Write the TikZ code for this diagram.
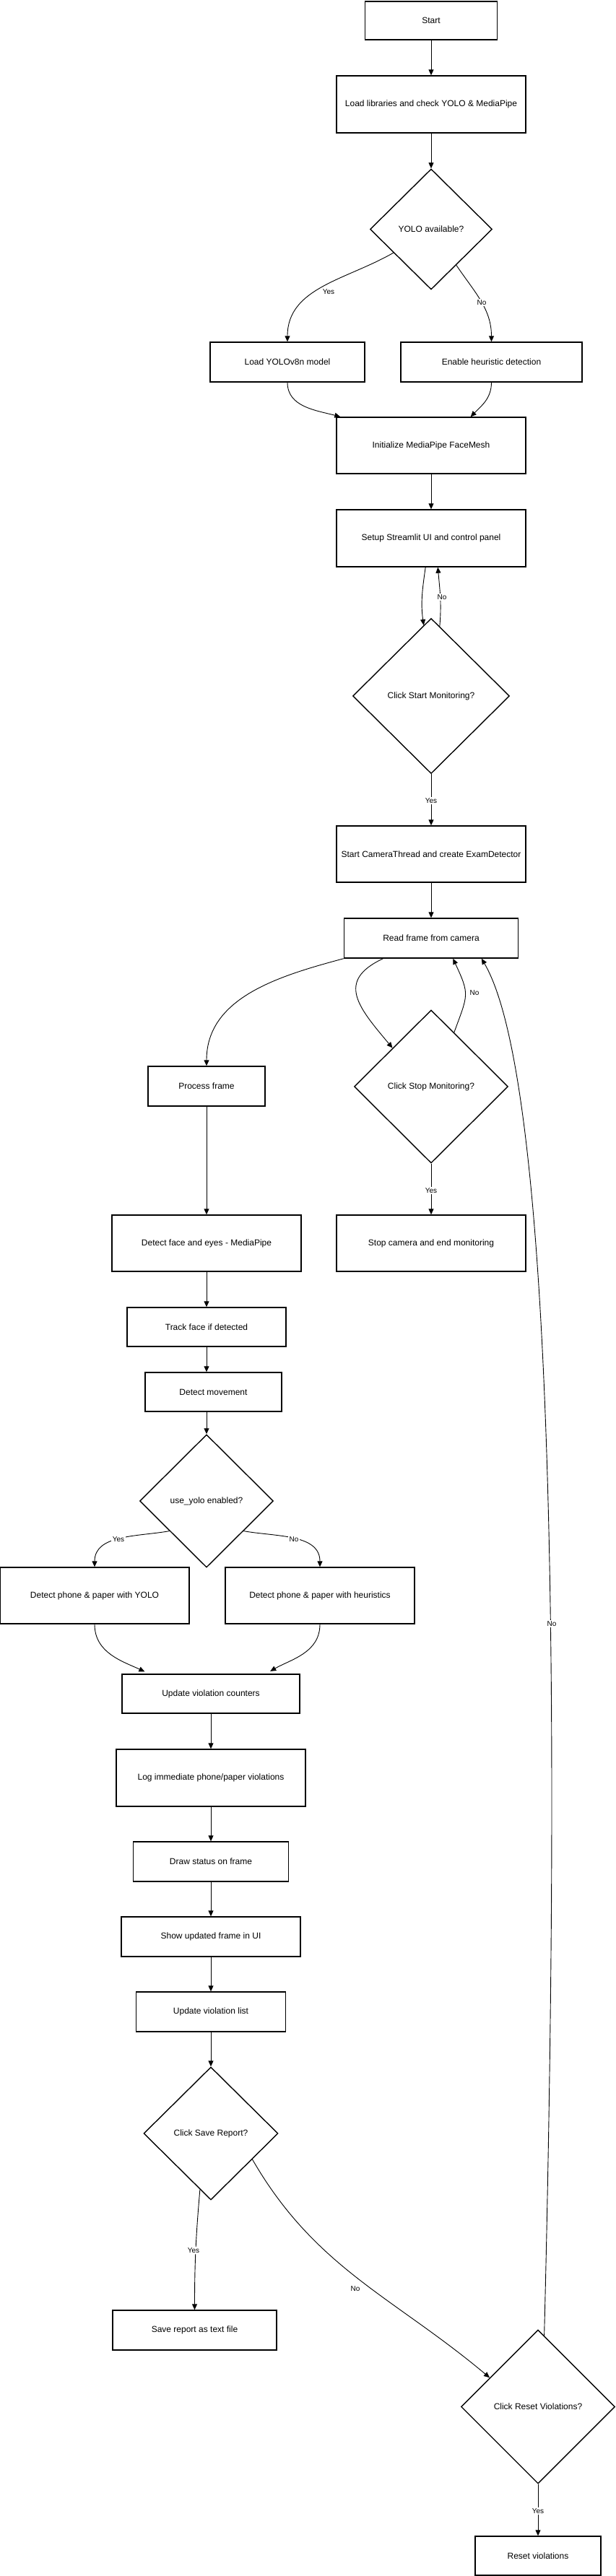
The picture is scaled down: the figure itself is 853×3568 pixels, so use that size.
\documentclass[tikz,border=0pt]{standalone}
\usepackage{fontspec}
\setmainfont{Liberation Sans}
\usetikzlibrary{shapes.geometric,arrows.meta}

\begin{document}
\begin{tikzpicture}[x=1pt, y=-1pt, >={Triangle[length=8pt,width=7pt]},
  box/.style={draw, line width=1.4pt, inner sep=0pt, font=\fontsize{12}{14}\selectfont},
  decision/.style={draw, diamond, line width=1.4pt, inner sep=0pt, font=\fontsize{12}{14}\selectfont},
  flow/.style={->, line width=0.9pt},
  elabel/.style={fill=white, inner sep=1.5pt, font=\fontsize{10}{12}\selectfont}]
  \useasboundingbox (0,0) rectangle (853,3568);
  % setup steps
  \node[box, minimum width=183, minimum height=53] (start) at (597,28.5) {Start};
  \node[box, minimum width=262, minimum height=79] (load) at (597,144.5) {Load libraries and check YOLO \& MediaPipe};
  \node[decision, minimum width=169, minimum height=167] (yolo) at (597,317.5) {YOLO available?};
  \node[box, minimum width=214, minimum height=55] (loadyolo) at (398,501.5) {Load YOLOv8n model};
  \node[box, minimum width=251, minimum height=55] (heur) at (680.5,501.5) {Enable heuristic detection};
  \node[box, minimum width=262, minimum height=78] (init) at (597,617) {Initialize MediaPipe FaceMesh};
  \node[box, minimum width=262, minimum height=79] (setup) at (597,745.5) {Setup Streamlit UI and control panel};
  \node[decision, minimum width=217, minimum height=215] (startmon) at (597,964) {Click Start Monitoring?};
  \node[box, minimum width=262, minimum height=78] (camthread) at (597,1183) {Start CameraThread and create ExamDetector};
  \node[box, minimum width=241, minimum height=55] (readframe) at (597,1299.5) {Read frame from camera};
  % camera loop
  \node[box, minimum width=162, minimum height=55] (process) at (286,1504.5) {Process frame};
  \node[decision, minimum width=213, minimum height=212] (stopmon) at (597,1505) {Click Stop Monitoring?};
  \node[box, minimum width=262, minimum height=78] (facedet) at (286,1722) {Detect face and eyes - MediaPipe};
  \node[box, minimum width=262, minimum height=78] (stopcam) at (597,1722) {Stop camera and end monitoring};
  \node[box, minimum width=220, minimum height=54] (track) at (286,1838) {Track face if detected};
  \node[box, minimum width=189, minimum height=54] (movement) at (295.5,1928) {Detect movement};
  \node[decision, minimum width=185, minimum height=184] (useyolo) at (286,2079) {use\_yolo enabled?};
  \node[box, minimum width=262, minimum height=78] (detyolo) at (131,2210) {Detect phone \& paper with YOLO};
  \node[box, minimum width=262, minimum height=78] (detheur) at (443,2210) {Detect phone \& paper with heuristics};
  \node[box, minimum width=246, minimum height=54] (counters) at (292,2346) {Update violation counters};
  \node[box, minimum width=262, minimum height=79] (logviol) at (292,2462.5) {Log immediate phone/paper violations};
  \node[box, minimum width=215, minimum height=55] (drawstatus) at (292,2578.5) {Draw status on frame};
  \node[box, minimum width=248, minimum height=55] (showframe) at (292,2682.5) {Show updated frame in UI};
  \node[box, minimum width=207, minimum height=55] (violist) at (292,2786.5) {Update violation list};
  \node[decision, minimum width=186, minimum height=184] (saverep) at (292,2955) {Click Save Report?};
  \node[box, minimum width=227, minimum height=55] (savetxt) at (269.5,3227.5) {Save report as text file};
  \node[decision, minimum width=213, minimum height=213] (resetq) at (745,3333.5) {Click Reset Violations?};
  \node[box, minimum width=174, minimum height=54] (resetv) at (745,3540) {Reset violations};
  % connectors, top part
  \draw[flow] (start) -- (load);
  \draw[flow] (load) -- (yolo);
  \draw[flow] (yolo.212) to[out=210,in=90] (loadyolo.north);
  \draw[flow] (yolo.305) to[out=-56,in=90] (heur.north);
  \draw[flow] (loadyolo.south) to[out=-90,in=165] ([xshift=6]init.north west);
  \draw[flow] (heur.south) to[out=-90,in=45] (init.36);
  \draw[flow] (init) -- (setup);
  \draw[flow] (setup.259) to[out=-98,in=98] (startmon.96);
  \draw[flow] (startmon.83) to[out=85,in=-85] (setup.283);
  \draw[flow] (startmon) -- (camthread);
  \draw[flow] (camthread) -- (readframe);
  \node[elabel] (yes1) at (455,404) {Yes};
  \node[elabel] (no1) at (667,419) {No};
  \node[elabel] (no2) at (612,827) {No};
  \node[elabel] (yes2) at (597,1109) {Yes};
  % camera loop
  \draw[flow] (readframe.south west) to[out=195,in=90] (process.north);
  \draw[flow] (readframe.203) to[out=205,in=130,looseness=1.5] (stopmon.135);
  \draw[flow] (stopmon.67) to[out=70,in=-65,looseness=1.4] (readframe.317);
  \draw[flow] (stopmon) -- (stopcam);
  \node[elabel] (no3) at (657,1375) {No};
  \node[elabel] (yes3) at (597,1649) {Yes};
  % detection chain
  \draw[flow] (process) -- (facedet);
  \draw[flow] (facedet) -- (track);
  \draw[flow] (track) -- (track.south |- movement.north);
  \draw[flow] (useyolo.north |- movement.south) -- (useyolo);
  \draw[flow] (useyolo.219) to[out=190,in=90] (detyolo.north);
  \draw[flow] (useyolo.-39) to[out=-10,in=90] (detheur.north);
  \draw[flow, shorten >=7pt] (detyolo.south) to[out=-90,in=155] (counters.162);
  \draw[flow, shorten >=7pt] (detheur.south) to[out=-90,in=30] (counters.20);
  \node[elabel] (yes4) at (164,2132) {Yes};
  \node[elabel] (no4) at (407,2132) {No};
  \draw[flow] (counters) -- (logviol);
  \draw[flow] (logviol) -- (drawstatus);
  \draw[flow] (drawstatus) -- (showframe);
  \draw[flow] (showframe) -- (violist);
  \draw[flow] (violist) -- (saverep);
  % report and reset
  \draw[flow] (saverep.259) to[out=-95,in=90] (savetxt.north);
  \draw[flow] (saverep.328) to[out=-60,in=140] (resetq.149);
  \draw[flow] (resetq) -- (resetv);
  \draw[flow] (resetq.85) .. controls (776,2350) and (768,1500) .. (readframe.338);
  \node[elabel] (yes5) at (268,3117) {Yes};
  \node[elabel] (no5) at (492,3170) {No};
  \node[elabel] (yes6) at (745,3478) {Yes};
  \node[elabel] (no6) at (764,2249) {No};
\end{tikzpicture}
\end{document}
